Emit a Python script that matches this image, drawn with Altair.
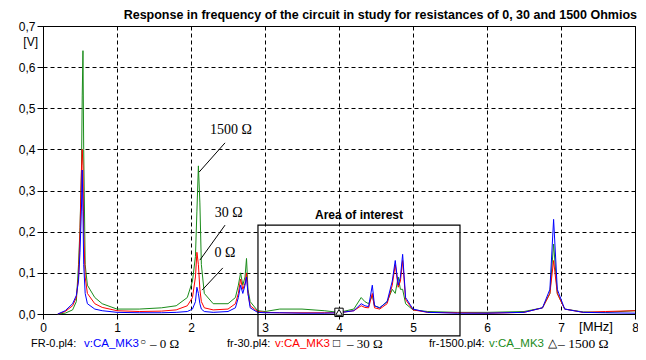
import altair as alt
import pandas as pd

# ---------------- data ----------------
freq = [0.20, 0.30, 0.40, 0.45, 0.48, 0.50, 0.52, 0.53, 0.54, 0.55, 0.57, 0.60, 0.70, 0.80,
        1.00, 1.30, 1.60, 1.80, 1.95, 2.02, 2.06, 2.08, 2.10, 2.12, 2.14, 2.18, 2.30, 2.50,
        2.60, 2.64, 2.67, 2.70, 2.73, 2.75, 2.77, 2.80, 2.90, 3.00, 3.20, 3.50, 3.80, 4.00,
        4.20, 4.30, 4.35, 4.40, 4.45, 4.48, 4.55, 4.65, 4.72, 4.76, 4.80, 4.83, 4.86, 4.90,
        5.00, 5.20, 5.60, 6.00, 6.50, 6.75, 6.85, 6.90, 6.95, 7.05, 7.30, 7.60, 8.00]

v_0 = [0.0, 0.008, 0.025, 0.045, 0.08, 0.15, 0.26, 0.35, 0.25, 0.12, 0.05, 0.025, 0.012, 0.008,
       0.004, 0.003, 0.003, 0.004, 0.006, 0.012, 0.03, 0.065, 0.05, 0.025, 0.012, 0.006, 0.004, 0.006,
       0.015, 0.04, 0.07, 0.05, 0.07, 0.09, 0.05, 0.015, 0.004, 0.003, 0.003, 0.002, 0.002, 0.003,
       0.008, 0.025, 0.02, 0.018, 0.07, 0.02, 0.015, 0.03, 0.08, 0.13, 0.07, 0.09, 0.145, 0.04,
       0.012, 0.004, 0.002, 0.002, 0.004, 0.015, 0.06, 0.23, 0.06, 0.012, 0.004, 0.003, 0.002]

v_30 = [0.0, 0.006, 0.02, 0.04, 0.09, 0.2, 0.35, 0.40, 0.36, 0.2, 0.09, 0.05, 0.025, 0.016,
        0.008, 0.006, 0.007, 0.01, 0.02, 0.04, 0.09, 0.15, 0.12, 0.06, 0.03, 0.015, 0.01, 0.012,
        0.025, 0.05, 0.085, 0.06, 0.075, 0.10, 0.05, 0.02, 0.006, 0.004, 0.003, 0.003, 0.003, 0.003,
        0.008, 0.02, 0.016, 0.015, 0.05, 0.015, 0.012, 0.025, 0.07, 0.12, 0.065, 0.08, 0.13, 0.035,
        0.01, 0.004, 0.003, 0.002, 0.004, 0.015, 0.05, 0.13, 0.05, 0.012, 0.004, 0.006, 0.008]

v_1500 = [0.0, 0.002, 0.01, 0.03, 0.12, 0.21, 0.35, 0.53, 0.64, 0.40, 0.12, 0.07, 0.04, 0.025,
          0.012, 0.012, 0.015, 0.02, 0.04, 0.08, 0.14, 0.25, 0.36, 0.27, 0.12, 0.05, 0.025, 0.025,
          0.04, 0.07, 0.10, 0.07, 0.09, 0.135, 0.06, 0.03, 0.008, 0.006, 0.012, 0.012, 0.008, 0.004,
          0.012, 0.04, 0.03, 0.025, 0.045, 0.02, 0.015, 0.03, 0.06, 0.05, 0.09, 0.06, 0.06, 0.025,
          0.01, 0.006, 0.004, 0.004, 0.006, 0.015, 0.05, 0.17, 0.05, 0.012, 0.005, 0.004, 0.008]

series_names = ["1500 Ω", "30 Ω", "0 Ω"]
series_colors = ["#1a8c1a", "#ff0000", "#0000ff"]
series_values = [v_1500, v_30, v_0]

x_ticks = [0, 1, 2, 3, 4, 5, 6, 7, 8]
y_ticks = [0.0, 0.1, 0.2, 0.3, 0.4, 0.5, 0.6, 0.7]

title_text = "Response in frequency of the circuit in study for resistances of  0, 30 and 1500 Ohmios"

# annotation callouts (label, text x, text y, line start x, y, line end x, y)
ann_labels = ["1500 Ω", "30 Ω", "0 Ω"]
ann_tx = [2.54, 2.51, 2.46]
ann_ty = [0.43, 0.228, 0.131]
ann_x1 = [2.46, 2.46, 2.43]
ann_y1 = [0.416, 0.216, 0.112]
ann_x2 = [2.11, 2.12, 2.15]
ann_y2 = [0.345, 0.131, 0.058]

box_x = [2.905, 5.635]
box_y = [-0.053, 0.216]

# ---------------- build tables ----------------
rows = []
for name, vals in zip(series_names, series_values):
    for f, v in zip(freq, vals):
        rows.append({"f": f, "v": v, "s": name})
df = pd.DataFrame(rows)

ann = pd.DataFrame({"label": ann_labels, "tx": ann_tx, "ty": ann_ty,
                    "x1": ann_x1, "y1": ann_y1, "x2": ann_x2, "y2": ann_y2})
box = pd.DataFrame({"x1": [box_x[0]], "x2": [box_x[1]], "y1": [box_y[0]], "y2": [box_y[1]],
                    "t": ["Area of interest"], "tx": [(box_x[0] + box_x[1]) / 2], "ty": [0.241]})
marker = pd.DataFrame({"f": [4.0], "v": [0.004]})

x_scale = alt.Scale(domain=[0, 8], nice=False, zero=False)
y_scale = alt.Scale(domain=[0, 0.7], nice=False, zero=False)

lines = alt.Chart(df).mark_line(strokeWidth=1, clip=False).encode(
    x=alt.X("f:Q", scale=x_scale,
            axis=alt.Axis(values=x_ticks, format="d", title=None, grid=True,
                          gridDash=[4, 3], gridColor="black", gridOpacity=1,
                          tickSize=5, labelPadding=3, labelFlush=False, labelOverlap=False)),
    y=alt.Y("v:Q", scale=y_scale,
            axis=alt.Axis(values=y_ticks, title=None, grid=True,
                          gridDash=[4, 3], gridColor="black", gridOpacity=1,
                          tickSize=6, labelPadding=2, labelFlush=False, labelOverlap=False,
                          labelExpr="replace(format(datum.value, '.1f'), '.', ',')")),
    color=alt.Color("s:N", scale=alt.Scale(domain=series_names, range=series_colors), legend=None),
    order=alt.Order("f:Q"),
)

rules = alt.Chart(ann).mark_rule(color="black", strokeWidth=1).encode(
    x="x1:Q", y="y1:Q", x2="x2:Q", y2="y2:Q")
ann_text = alt.Chart(ann).mark_text(font="Liberation Serif", fontSize=14, color="black",
                                    baseline="bottom").encode(
    x="tx:Q", y="ty:Q", text="label:N")

rect = alt.Chart(box).mark_rect(fillOpacity=0, stroke="black", strokeWidth=1.2, clip=False).encode(
    x="x1:Q", x2="x2:Q", y="y1:Q", y2="y2:Q")
rect_text = alt.Chart(box).mark_text(font="Liberation Sans", fontWeight="bold", fontSize=12,
                                     color="black").encode(x="tx:Q", y="ty:Q", text="t:N")

mk_sq = alt.Chart(marker).mark_point(shape="square", filled=True, fill="white", stroke="black",
                                     strokeWidth=1, size=70, opacity=1).encode(x="f:Q", y="v:Q")
mk_tri = alt.Chart(marker).mark_point(shape="triangle-up", filled=True, fill="white", stroke="black",
                                      strokeWidth=1, size=45, opacity=1).encode(x="f:Q", y="v:Q")

one = pd.DataFrame({"a": [0]})


def ptext(txt, x, y, color="black", size=11, font="Liberation Sans", weight="normal", align="left"):
    return alt.Chart(one).mark_text(text=txt, color=color, fontSize=size, font=font,
                                    fontWeight=weight, align=align, baseline="middle").encode(
        x=alt.value(x), y=alt.value(y))


title = ptext(title_text, 594, -11, size=12.5, weight="bold", align="right")
vlab = ptext("[V]", -5, 16, size=12, align="right")
mhz = ptext("[MHz]", 553, 301, size=13, align="center")

LY = 318
legend_parts = [
    ptext("FR-0.pl4:", -12, LY), ptext("v:CA_MK3", 41, LY, color="#0000ff", size=11.5),
    ptext("○", 97, LY - 2, size=10), ptext("– 0 Ω", 107, LY, size=13, font="Liberation Serif"),
    ptext("fr-30.pl4:", 184, LY), ptext("v:CA_MK3", 232, LY, color="#ff0000", size=11.5),
    ptext("□", 290, LY - 1, size=12), ptext("– 30 Ω", 304, LY, size=13, font="Liberation Serif"),
    ptext("fr-1500.pl4:", 386, LY), ptext("v:CA_MK3", 446, LY, color="#1a8c1a", size=11.5),
    ptext("△", 505, LY - 1, size=12), ptext("– 1500 Ω", 515, LY, size=13.5, font="Liberation Serif"),
]

chart = alt.layer(
    lines, rules, ann_text, rect, rect_text, mk_sq, mk_tri, title, vlab, mhz, *legend_parts
).properties(
    width=592, height=288,
    autosize=alt.AutoSizeParams(type="none"),
    padding={"left": 35, "top": 18, "right": 3, "bottom": 38},
    background="white",
).configure_view(
    stroke="black", strokeWidth=1
).configure_axis(
    domainColor="black", tickColor="black", labelColor="black",
    labelFont="Liberation Sans", labelFontSize=12
)

chart.save("out.html", embed_options={"renderer": "svg", "actions": False})
